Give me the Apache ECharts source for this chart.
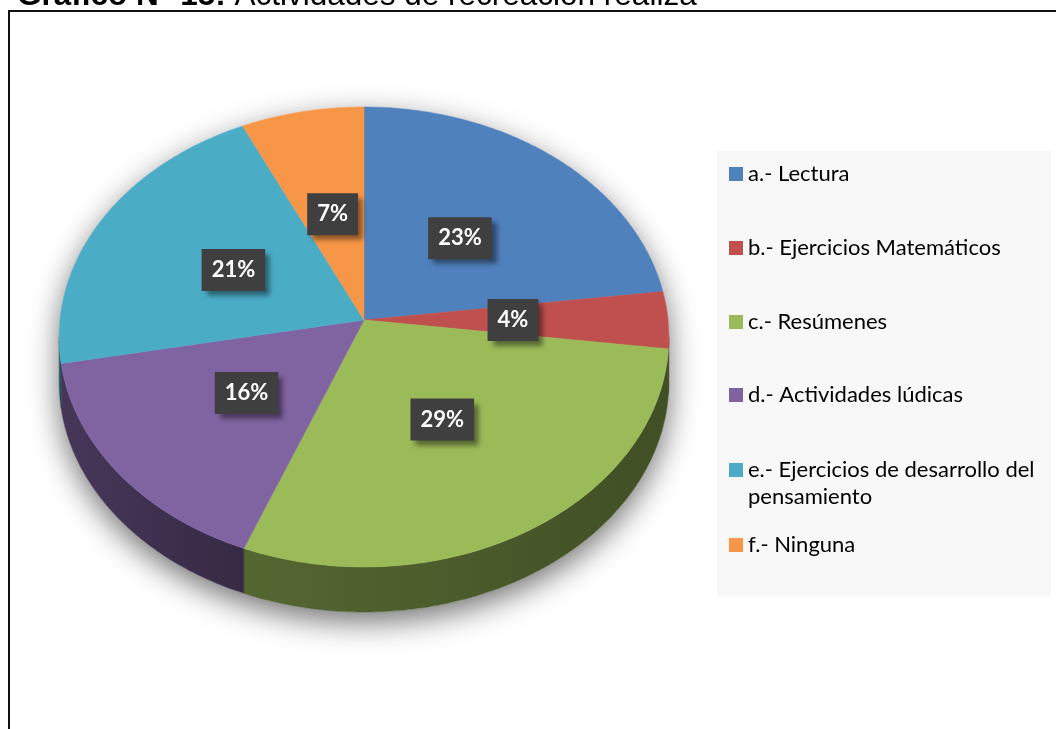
<!DOCTYPE html>
<html>
<head>
<meta charset="utf-8">
<script src="https://cdn.jsdelivr.net/npm/echarts@6/dist/echarts.min.js"></script>
<style>
html, body { margin: 0; padding: 0; background: #fff; }
#chart { width: 1056px; height: 729px; }
</style>
</head>
<body>
<div id="chart"></div>
<script>
var categories = ['a.- Lectura', 'b.- Ejercicios Matemáticos', 'c.- Resúmenes', 'd.- Actividades lúdicas', 'e.- Ejercicios de desarrollo del\npensamiento', 'f.- Ninguna'];
var percents = [23, 4, 29, 16, 21, 7];
var colors = ['#4F81BD', '#C0504D', '#9BBB59', '#8064A2', '#4BACC6', '#F79646'];

// tilted pie drawn in perspective
var CX = 364, VY = 320, RX = 304, RY = 228.7, PERSP = 0.074, DEPTH = 45;
var total = percents.reduce(function (a, b) { return a + b; }, 0);
var sideMin = Math.acos(-PERSP), sideMax = 2 * Math.PI - Math.acos(-PERSP);

function proj(t, r, dy) {
    var c = Math.cos(t), s = Math.sin(t);
    var w = 1 + PERSP * r * c;
    return [CX + RX * r * s / w, VY + dy - RY * r * c / w];
}
function arc(a0, a1, dy) {
    var pts = [], n = Math.max(2, Math.ceil(Math.abs(a1 - a0) / 0.01));
    for (var k = 0; k <= n; k++) pts.push(proj(a0 + (a1 - a0) * k / n, 1, dy));
    return pts;
}
function shade(hex, f) {
    var n = parseInt(hex.slice(1), 16);
    var r = Math.round(((n >> 16) & 255) * f), g = Math.round(((n >> 8) & 255) * f), b = Math.round((n & 255) * f);
    return 'rgb(' + r + ',' + g + ',' + b + ')';
}
function startOf(i) {
    var s = 0;
    for (var k = 0; k < i; k++) s += percents[k];
    return s / total * 2 * Math.PI;
}

function makeRender(i) {
    return function (params, api) {
        var a0 = startOf(i);
        var a1 = a0 + api.value(0) / total * 2 * Math.PI;
        var children = [];
        if (a1 > sideMin && a0 < sideMax) {
            var s0 = Math.max(a0, sideMin), s1 = Math.min(a1, sideMax);
            var pts = arc(s0, s1, 0).concat(arc(s1, s0, DEPTH));
            children.push({
                type: 'polygon', z2: 1,
                shape: { points: pts },
                style: {
                    fill: new echarts.graphic.LinearGradient(0, 0, 1, 0, [
                        { offset: 0, color: shade(colors[i], 0.55) },
                        { offset: 1, color: shade(colors[i], 0.42) }
                    ]),
                    stroke: shade(colors[i], 0.45), lineWidth: 0.5
                }
            });
        }
        var top = [[CX, VY]].concat(arc(a0, a1, 0));
        children.push({
            type: 'polygon', z2: 2,
            shape: { points: top },
            style: { fill: colors[i], stroke: colors[i], lineWidth: 0.6 }
        });
        var mid = (a0 + a1) / 2;
        var lp = proj(mid, 0.49, 0);
        children.push({
            type: 'text', z2: 30,
            style: {
                text: percents[i] + '%',
                x: lp[0], y: lp[1],
                align: 'center', verticalAlign: 'middle',
                fill: '#fff',
                font: 'bold 22px Lato, "Open Sans", sans-serif',
                lineHeight: 24,
                backgroundColor: '#3f3f3f',
                padding: [9, 10, 9, 10],
                shadowColor: 'rgba(0,0,0,0.45)', shadowBlur: 5, shadowOffsetX: 5, shadowOffsetY: 5
            }
        });
        return { type: 'group', children: children };
    };
}

// soft shadow under the pie
var silhouette = arc(sideMax, 2 * Math.PI + sideMin, 0).concat(arc(sideMin, sideMax, DEPTH));

var legendY = [174, 248, 322, 395, 470, 545];
var legends = categories.map(function (name, i) {
    var multi = name.indexOf('\n') >= 0;
    return {
        data: [name],
        orient: 'vertical',
        left: 729,
        top: multi ? legendY[i] - 40.5 : legendY[i] - 13.5,
        padding: 0,
        itemWidth: 14, itemHeight: 14,
        icon: 'rect',
        selectedMode: false,
        // leading blank line keeps the square beside the first line
        formatter: function (n) { return n.indexOf('\n') >= 0 ? '\n' + n : n; },
        textStyle: {
            fontFamily: 'Lato, "Open Sans", sans-serif',
            fontSize: 22, color: '#000', lineHeight: 27
        }
    };
});

var chart = echarts.init(document.getElementById('chart'), null, { renderer: 'canvas' });
chart.setOption({
    animation: false,
    legend: legends,
    graphic: [
        {
            type: 'text', x: 17, y: -4, z: 0,
            style: {
                text: '{b|Gráfico N° 15:} Actividades de recreación realiza',
                font: '31.5px "Liberation Sans", Arial, sans-serif',
                fill: '#000', verticalAlign: 'middle',
                rich: { b: { font: 'bold 31.5px "Liberation Sans", Arial, sans-serif', fill: '#000' } }
            }
        },
        {
            type: 'rect', z: 0,
            shape: { x: 9, y: 11, width: 1200, height: 1000 },
            style: { fill: 'none', stroke: '#111', lineWidth: 2 }
        },
        {
            type: 'rect', z: 0,
            shape: { x: 717, y: 151, width: 334, height: 445 },
            style: { fill: '#f8f8f8' }
        },
        {
            type: 'polygon', z: 0,
            shape: { points: silhouette },
            style: { fill: '#fff', shadowColor: 'rgba(0,0,0,0.55)', shadowBlur: 30, shadowOffsetY: 10 }
        }
    ],
    series: categories.map(function (name, i) {
        return {
            type: 'custom',
            name: name,
            coordinateSystem: 'none',
            itemStyle: { color: colors[i] },
            data: [[percents[i]]],
            renderItem: makeRender(i)
        };
    })
});
</script>
</body>
</html>
